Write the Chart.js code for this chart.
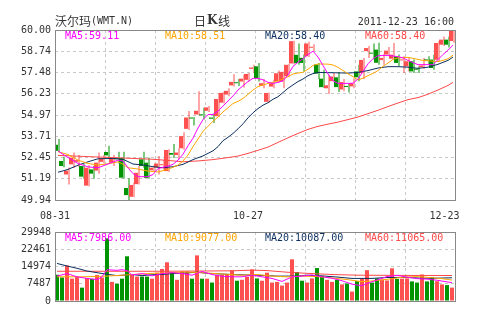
<!DOCTYPE html>
<html>
<head>
<meta charset="utf-8">
<script src="https://cdn.jsdelivr.net/npm/chart.js@4.4.1/dist/chart.umd.min.js"></script>
<style>
  html, body { margin: 0; padding: 0; background: #fff; }
  #wrap { position: relative; width: 480px; height: 330px; }
  #priceChart { position: absolute; left: 0; top: 0; }
  #volChart { position: absolute; left: 0; top: 222px; }
</style>
</head>
<body>
<div id="wrap">
  <canvas id="priceChart" width="480" height="222"></canvas>
  <canvas id="volChart" width="480" height="108"></canvas>
</div>
<script>
/*
  Data: WMT.N daily candles 2011-08-31 .. 2011-12-23
*/
var opens = [53.21,52.25,51.45,52.05,52.20,51.95,50.79,51.75,51.68,52.20, 52.78,52.15,52.40,52.42,50.65,50.13,50.88,52.35,52.15,51.70,
  51.85,52.00,51.65,52.72,52.60,53.00,54.15,54.82,55.00,55.00, 55.22,54.82,54.90,55.70,56.18,56.72,56.90,56.95,57.05,57.70,
  57.85,56.70,55.75,56.65,56.98,56.95,57.27,58.02,58.53,58.35, 58.45,58.95,57.96,57.12,56.55,56.97,57.20,56.48,56.68,56.66,
  57.55,57.45,58.75,58.65,58.84,58.22,58.55,58.30,58.44,58.20, 57.85,58.15,57.70,57.80,58.25,58.25,58.24,59.13,59.43,59.35]
var highs = [53.55,52.50,51.87,52.75,52.60,52.05,52.00,51.95,52.75,52.60, 53.15,52.60,52.80,52.80,51.22,50.97,51.95,52.80,52.45,52.00,
  52.55,52.30,52.95,53.25,53.00,53.95,55.20,54.85,56.38,55.40, 55.50,55.05,56.25,56.35,56.55,57.38,57.10,57.35,57.45,57.95,
  58.05,57.10,56.30,57.05,57.60,57.55,58.00,59.36,59.20,58.55, 59.30,59.15,58.05,57.65,57.35,57.45,57.50,57.10,56.86,57.15,
  57.95,58.35,59.05,59.20,59.25,58.60,59.00,59.23,58.55,58.45, 58.35,58.25,57.85,58.35,58.45,58.55,59.35,59.62,59.60,60.00]
var lows = [52.78,51.88,50.85,51.83,51.90,51.20,50.75,51.20,51.50,52.10, 52.40,51.95,52.10,51.20,49.94,50.10,50.85,51.85,51.20,51.60,
  51.45,51.75,51.60,52.42,52.35,52.92,54.08,54.35,54.95,54.70, 55.15,54.50,54.85,55.65,56.08,56.65,56.68,56.60,56.95,57.45,
  56.95,56.55,55.70,56.55,56.90,56.55,57.20,57.98,57.95,57.55, 58.40,58.74,57.10,56.57,56.22,56.95,56.33,56.38,56.30,56.56,
  56.96,57.10,58.35,58.25,57.95,57.95,58.45,58.25,57.85,57.45, 57.55,57.45,57.45,57.70,57.95,57.65,58.15,59.05,58.97,59.25]
var closes = [52.85,51.95,51.68,52.45,52.30,51.32,51.85,51.50,52.15,52.40, 52.58,52.40,52.35,51.26,50.23,50.83,51.55,51.95,51.25,51.85,
  52.10,52.05,52.90,52.62,52.75,53.72,54.82,54.76,55.22,54.95, 55.42,54.75,55.92,56.28,56.40,56.93,56.85,57.12,57.40,57.78,
  57.16,56.85,56.27,56.85,57.44,57.52,57.94,59.34,58.04,58.05, 59.20,59.00,57.42,56.62,56.73,57.25,56.62,56.92,56.63,56.85,
  57.20,58.23,58.93,58.60,58.06,58.35,58.78,58.54,58.05,58.26, 58.15,57.55,57.65,57.90,58.20,57.75,59.23,59.43,59.13,59.96]
var volumes = [11400,10200,15400,9700,10600,5800,10000,9600,11300,10200, 27200,8300,7500,9700,19400,11600,10600,10600,10600,9700,
  12300,13900,16800,12600,9200,12900,12900,9700,19800,9700, 9700,8000,11300,11300,11300,13300,8800,9200,10500,13700,
  9800,8800,12300,8000,8300,6700,8000,18100,12600,8800, 8000,9800,14300,10900,9200,8300,9200,7200,7600,4100,
  8600,9800,13400,8000,9800,9300,8900,14200,9600,9700, 9800,8500,8000,11500,8500,10200,8600,7200,6900,5800]

// moving averages: [candle index, value]
var ma5 = [[0,52.84],[2,52.45],[4,52.1],[6,51.9],[8,51.85],[10,52.07],[12,52.3],[13,52.25],[14,51.85],[15,51.5],[16,51.32],[18,51.32],[19,51.45],[20,51.8],[22,51.95],[23,52.05],[24,52.3],[25,52.65],[26,53.15],[27,53.6],[28,54.2],[29,54.7],[30,55.0],[31,55.0],[32,55.2],[33,55.5],[34,55.8],[35,56.1],[36,56.45],[37,56.7],[38,56.95],[39,57.14],[40,57.14],[41,57.05],[42,56.9],[43,56.84],[44,56.9],[45,57.0],[46,57.35],[47,57.85],[48,58.1],[49,58.3],[50,58.55],[51,58.75],[52,58.4],[53,57.9],[54,57.4],[55,57.0],[56,56.84],[58,56.84],[59,56.85],[60,57.1],[61,57.55],[62,58.0],[63,58.3],[64,58.48],[66,58.5],[68,58.42],[69,58.35],[70,58.2],[71,58.07],[72,57.95],[75,57.95],[76,58.25],[77,58.55],[78,58.8],[79,59.11]]
var ma10 = [[0,52.8],[2,52.63],[4,52.3],[6,52.1],[8,52.01],[10,52.08],[12,52.2],[13,52.05],[14,51.85],[16,51.77],[18,51.65],[20,51.6],[22,51.75],[23,51.88],[24,52.0],[25,52.25],[26,52.6],[27,53.1],[28,53.55],[29,54.0],[30,54.3],[31,54.6],[32,54.85],[33,55.15],[34,55.4],[35,55.65],[36,55.78],[37,55.95],[38,56.2],[39,56.45],[40,56.65],[42,56.84],[44,56.98],[46,57.24],[47,57.4],[49,57.5],[50,57.68],[51,57.9],[52,57.99],[54,57.98],[55,57.93],[56,57.79],[57,57.6],[58,57.4],[59,57.24],[60,57.04],[61,57.15],[62,57.3],[63,57.43],[64,57.6],[65,57.85],[66,58.05],[67,58.26],[68,58.35],[70,58.38],[71,58.32],[73,58.2],[76,58.13],[77,58.2],[78,58.3],[79,58.51]]
var ma20 = [[0,51.58],[2,51.75],[4,52.0],[6,52.2],[8,52.38],[11,52.4],[13,52.35],[15,52.07],[17,52.01],[19,51.91],[21,51.85],[23,51.91],[25,52.05],[27,52.33],[29,52.55],[31,52.85],[32,53.1],[33,53.45],[34,53.65],[35,53.88],[36,54.15],[37,54.45],[38,54.8],[39,55.1],[40,55.35],[41,55.55],[42,55.7],[43,55.9],[44,56.05],[45,56.3],[46,56.55],[47,56.75],[48,56.95],[49,57.1],[50,57.3],[51,57.42],[52,57.49],[58,57.45],[60,57.49],[62,57.6],[64,57.75],[66,57.83],[68,57.83],[70,57.8],[72,57.73],[74,57.8],[76,57.97],[78,58.2],[79,58.4]]
var ma60 = [[0,52.58],[5,52.52],[10,52.46],[15,52.4],[19,52.35],[22,52.28],[25,52.2],[28,52.25],[31,52.33],[34,52.45],[36,52.54],[38,52.7],[40,52.88],[42,53.07],[44,53.35],[46,53.62],[48,53.88],[50,54.12],[52,54.3],[54,54.43],[56,54.55],[58,54.7],[60,54.85],[62,55.05],[64,55.25],[66,55.47],[68,55.68],[70,55.88],[72,56.0],[74,56.2],[76,56.45],[78,56.72],[79,56.9]]

var vma5 = [[0,10800],[2,11900],[4,10500],[6,9800],[8,9300],[9,10500],[10,13600],[12,13300],[13,13600],[14,13200],[15,11300],[17,11900],[19,10900],[21,11900],[23,12300],[25,11900],[27,11200],[29,12800],[31,11500],[33,10700],[35,10500],[37,10500],[39,11200],[41,10500],[43,9800],[45,8500],[47,10500],[49,10800],[51,11300],[53,10500],[55,9900],[57,8800],[59,7300],[61,6600],[62,7600],[64,9100],[66,10600],[68,11100],[70,10400],[72,9700],[74,9500],[76,9000],[78,8300],[79,7986]]
var vma10 = [[0,10500],[5,10500],[10,10800],[13,11200],[16,11600],[19,12000],[22,12200],[25,12600],[28,12400],[31,12000],[34,11600],[37,11200],[40,11500],[43,10800],[46,10500],[49,10800],[52,10600],[55,10000],[58,9300],[61,8400],[63,8700],[66,9400],[69,10300],[72,10600],[75,10100],[77,9700],[79,9077]]
var vma20 = [[0,16300],[2,15200],[4,14200],[6,13000],[8,12300],[10,11600],[12,11000],[15,11500],[17,11000],[19,11400],[21,11500],[23,11900],[26,12200],[28,12500],[30,12000],[33,11700],[36,11400],[40,11200],[44,10800],[48,10800],[50,11200],[53,10900],[56,10400],[59,9800],[63,9800],[66,10200],[70,10200],[73,9900],[76,9900],[79,10087]]
var vma60 = [[0,12900],[20,12900],[35,13100],[39,13400],[42,13200],[46,12500],[50,12000],[55,11500],[60,11200],[70,11100],[79,11065]]

var priceTicks = ['49.94','51.19','52.45','53.71','54.97','56.23','57.48','58.74','60.00']
var volTicks = [0, 7487, 14974, 22461, 29948]
var dateTicks = ['08-31', '10-27', '12-23']
var priceLegend = ['MA5:59.11', 'MA10:58.51', 'MA20:58.40', 'MA60:58.40']
var volLegend = ['MA5:7986.00', 'MA10:9077.00', 'MA20:10087.00', 'MA60:11065.00']

/*
  Styles
*/
var red = '#ff5050';
var green = '#009400';
var maColors = ['#ff00ff', '#ffa500', '#0b2f5f', '#ff4848'];
var gridColor = '#c8c8c8';
var gridDash = [3, 3];
var mono = '"DejaVu Sans Mono", monospace';
var cjk = '"Noto Sans CJK SC", sans-serif';

var candleColor = (i) => closes[i] >= opens[i] ? red : green;
var toPoints = (arr) => arr.map(p => ({x: p[0], y: p[1]}));

// vertical grid every 10 candles
var gridTicks = (shift) => [1, 2, 3, 4, 5, 6, 7].map(k => ({value: k * 10 + shift}));

var maDatasets = (lists) => lists.map((l, k) => ({
  type: 'line',
  data: toPoints(l),
  borderColor: maColors[k],
  borderWidth: 1,
  pointRadius: 0,
  tension: 0,
  xAxisID: 'x',
  order: 0
}))

/*
  frame + text drawing
*/
var framePlugin = {
  id: 'frame',
  afterDraw(chart, args, opts) {
    var ctx = chart.ctx, a = chart.chartArea;
    ctx.save();
    ctx.setLineDash([]);
    ctx.strokeStyle = '#888';
    ctx.lineWidth = 1;
    ctx.strokeRect(a.left + 0.5, a.top + 0.5, a.right - a.left, a.bottom - a.top);
    ctx.textBaseline = 'middle';
    ctx.font = '10px ' + mono;
    (opts.legend || []).forEach((t, k) => {
      ctx.fillStyle = maColors[k];
      ctx.fillText(t, a.left + 10 + k * 100, a.top + opts.legendY);
    })
    if (opts.title) {
      ctx.fillStyle = '#333';
      ctx.font = '12px ' + cjk;
      ctx.fillText('沃尔玛', 55, 21);
      ctx.font = '10px ' + mono;
      ctx.fillText('(WMT.N)', 91, 21);
      ctx.font = '12px ' + cjk;
      ctx.fillText('日', 194, 21);
      ctx.font = 'bold 12px "DejaVu Serif", serif';
      ctx.fillText('K', 207, 21);
      ctx.font = '12px ' + cjk;
      ctx.fillText('线', 218, 21);
      ctx.font = '10px ' + mono;
      ctx.textAlign = 'right';
      ctx.fillText('2011-12-23 16:00', 454, 22);
    }
    ctx.restore();
  }
}

/*
  Price (candlestick) chart
*/
var priceCanvas = document.getElementById('priceChart');
var priceChart = new Chart(priceCanvas, {
  type: 'bar',
  data: {
    datasets: maDatasets([ma5, ma10, ma20, ma60]).concat([
      {
        data: opens.map((o, i) => ({x: i, y: [o, closes[i]]})),
        backgroundColor: opens.map((o, i) => candleColor(i)),
        barThickness: 4,
        minBarLength: 1,
        inflateAmount: 0,
        borderWidth: 0,
        xAxisID: 'x',
        order: 1
      },
      {
        data: lows.map((l, i) => ({x: i, y: [l, highs[i]]})),
        backgroundColor: opens.map((o, i) => candleColor(i)),
        barThickness: 1,
        inflateAmount: 0,
        borderWidth: 0,
        xAxisID: 'xw',
        order: 2
      }
    ])
  },
  options: {
    responsive: false,
    animation: false,
    layout: { padding: { top: 30, right: 25, left: 0, bottom: 0 } },
    plugins: {
      legend: { display: false },
      tooltip: { enabled: false },
      frame: { legend: priceLegend, legendY: 6, title: true }
    },
    scales: {
      x: {
        type: 'linear', min: -0.6, max: 79.4, bounds: 'data', offset: false,
        afterBuildTicks: s => {
          s.ticks = [{value: -0.6, text: dateTicks[0]}, {value: 38, text: dateTicks[1]}, {value: 77.3, text: dateTicks[2]}]
            .concat(gridTicks(-0.6)).sort((a, b) => a.value - b.value)
        },
        afterFit: s => { s.height = 22 },
        grid: {
          offset: false,
          color: c => (c.tick && c.tick.text) ? 'rgba(0,0,0,0)' : gridColor,
          drawTicks: false
        },
        border: { display: false, dash: gridDash },
        ticks: {
          autoSkip: false, maxRotation: 0, minRotation: 0, padding: 10,
          color: '#333', font: { family: mono, size: 10 },
          callback: (v, i, t) => t[i].text || ''
        }
      },
      xw: { type: 'linear', min: -0.7, max: 79.3, bounds: 'data', offset: false, display: false },
      y: {
        min: 49.94, max: 60, bounds: 'data',
        afterBuildTicks: s => {
          s.ticks = priceTicks.map((t, k) => ({value: 49.94 + k * (60 - 49.94) / 8}))
        },
        afterFit: s => { s.width = 55 },
        grid: { color: gridColor, drawTicks: false },
        border: { display: false, dash: gridDash },
        ticks: {
          padding: 4, color: '#333', font: { family: mono, size: 10 },
          callback: (v, i) => priceTicks[i]
        }
      }
    }
  },
  plugins: [framePlugin]
})

/*
  Volume chart
*/
var volCanvas = document.getElementById('volChart');
var volChart = new Chart(volCanvas, {
  type: 'bar',
  data: {
    datasets: maDatasets([vma5, vma10, vma20, vma60]).concat([
      {
        data: volumes.map((v, i) => ({x: i, y: v})),
        backgroundColor: volumes.map((v, i) => candleColor(i)),
        barThickness: 4,
        inflateAmount: 0,
        borderWidth: 0,
        xAxisID: 'x',
        order: 1
      }
    ])
  },
  options: {
    responsive: false,
    animation: false,
    layout: { padding: { top: 8, right: 25, left: 0, bottom: 29 } },
    plugins: {
      legend: { display: false },
      tooltip: { enabled: false },
      frame: { legend: volLegend, legendY: 6, title: false }
    },
    scales: {
      x: {
        type: 'linear', min: -0.4, max: 79.6, bounds: 'data', offset: false,
        afterBuildTicks: s => { s.ticks = gridTicks(-0.4) },
        afterFit: s => { s.height = 0 },
        grid: { offset: false, color: gridColor, drawTicks: false },
        border: { display: false, dash: gridDash },
        ticks: { display: false }
      },
      y: {
        min: 0, max: 29948, bounds: 'data',
        afterBuildTicks: s => { s.ticks = volTicks.map(v => ({value: v})) },
        afterFit: s => { s.width = 55 },
        grid: { color: gridColor, drawTicks: false },
        border: { display: false, dash: gridDash },
        ticks: {
          padding: 4, color: '#333', font: { family: mono, size: 10 },
          callback: (v, i) => String(volTicks[i])
        }
      }
    }
  },
  plugins: [framePlugin]
})
</script>
</body>
</html>
